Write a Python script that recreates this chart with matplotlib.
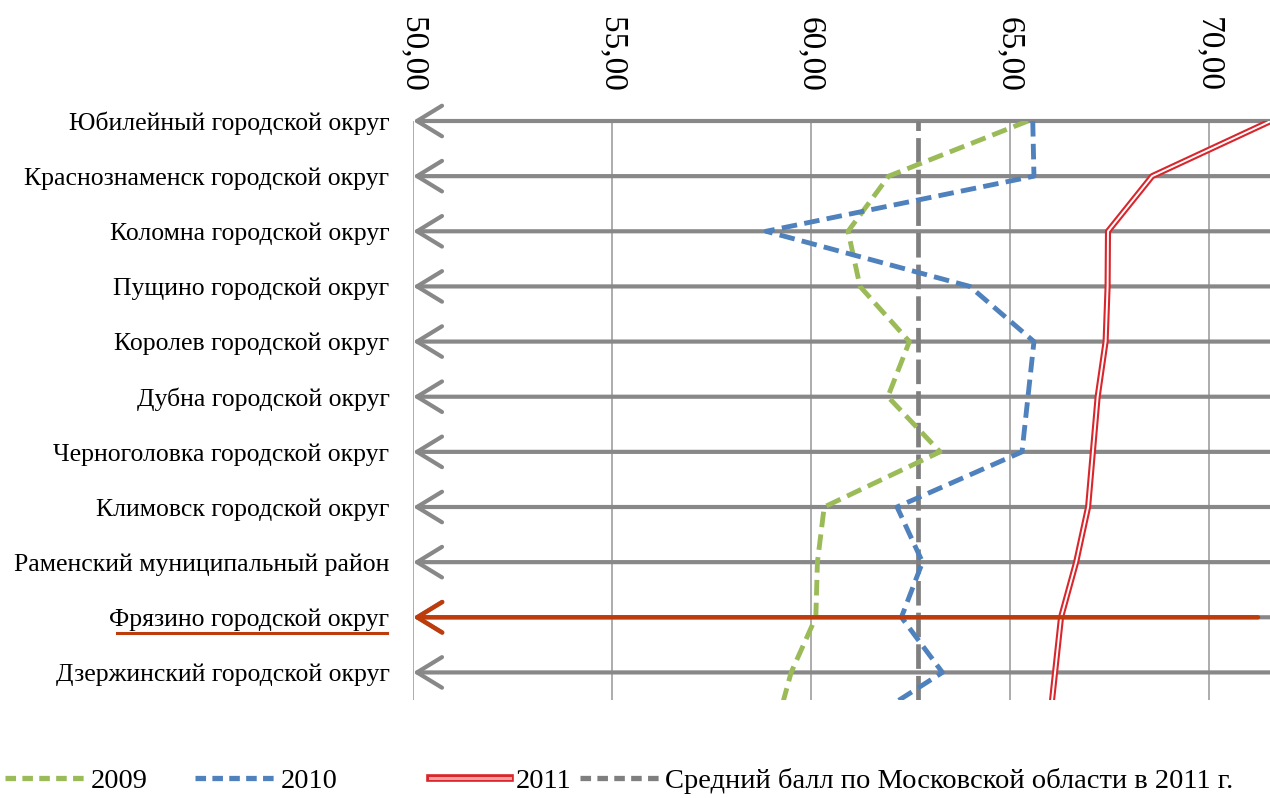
import matplotlib
matplotlib.use('Agg')
import numpy as np
import matplotlib.pyplot as plt
import matplotlib.patheffects as pe
from matplotlib.lines import Line2D

# ---------------- data ----------------
categories = [
    'Юбилейный городской округ',
    'Краснознаменск городской округ',
    'Коломна городской округ',
    'Пущино городской округ',
    'Королев городской округ',
    'Дубна городской округ',
    'Черноголовка городской округ',
    'Климовск городской округ',
    'Раменский муниципальный район',
    'Фрязино городской округ',
    'Дзержинский городской округ',
]
# the 12th value of each series belongs to a row cut off below the chart edge
scores_2009 = [65.45, 61.95, 60.93, 61.23, 62.47, 61.93, 63.24, 60.33, 60.16, 60.12, 59.50, 59.12]
scores_2010 = [65.57, 65.60, 58.87, 63.99, 65.60, 65.45, 65.30, 62.16, 62.80, 62.27, 63.30, 61.13]
scores_2011 = [71.55, 68.57, 67.46, 67.45, 67.40, 67.20, 67.08, 66.96, 66.66, 66.28, 66.13, 65.98]
region_avg_2011 = 62.69
x_ticks = [50, 55, 60, 65, 70]
x_tick_labels = ['50,00', '55,00', '60,00', '65,00', '70,00']
highlight = 'Фрязино городской округ'
series_names = ['2009', '2010', '2011', 'Средний балл по Московской области в 2011 г.']

# ---------------- style ----------------
plt.rcParams['font.family'] = ['Liberation Serif', 'DejaVu Serif']
W, H = 1270, 798
fig = plt.figure(figsize=(W / 100, H / 100), dpi=100)
ax = fig.add_axes([413 / W, 1 - 700 / H, 857 / W, 579 / H])

XMIN, XMAX = 50, 71.53
ax.set_xlim(XMIN, XMAX)
ax.set_ylim(10.5, 0)

c_green = '#9BBB59'
c_blue = '#4F81BD'
c_red = '#D9262C'
c_gray = '#7F7F7F'
c_hl = '#BE3C0C'

pos = np.arange(len(scores_2009))

for s in ax.spines.values():
    s.set_visible(False)

ax.set_xticks(x_ticks)
ax.set_xticklabels(x_tick_labels, rotation=-90, fontsize=24)
ax.xaxis.tick_top()
ax.tick_params(axis='x', length=0, pad=21)
ax.grid(axis='x', color='#A6A6A6', lw=1.3, zorder=0)
ax.set_axisbelow(True)

ax.set_yticks(np.arange(len(categories)))
ax.set_yticklabels(categories, fontsize=18.5)
ax.tick_params(axis='y', length=0, pad=17)

# horizontal category arrows
arrow_style = '->,head_length=0.9,head_width=0.55'
for i, name in enumerate(categories):
    ax.annotate('', xy=(XMIN, i), xytext=(XMAX, i),
                arrowprops=dict(arrowstyle=arrow_style, color='#888888', lw=3.0,
                                shrinkA=0, shrinkB=0, mutation_scale=20),
                annotation_clip=False, zorder=1.5)

# series
l09, = ax.plot(scores_2009, pos, color=c_green, lw=3.5, dashes=(3.2, 1.5), zorder=3)
l10, = ax.plot(scores_2010, pos, color=c_blue, lw=3.5, dashes=(3.2, 1.5), zorder=3)
l11, = ax.plot(scores_2011, pos, color='white', lw=1.4, zorder=3.2,
               path_effects=[pe.Stroke(linewidth=4.4, foreground=c_red), pe.Normal()])
lav = ax.axvline(region_avg_2011, color=c_gray, lw=3.4, dashes=(5.2, 1.5), zorder=2.8)

# highlighted row arrow
hi = categories.index(highlight)
ax.annotate('', xy=(XMIN, hi), xytext=(71.23, hi),
            arrowprops=dict(arrowstyle=arrow_style, color=c_hl, lw=3.2,
                            shrinkA=0, shrinkB=0, mutation_scale=20),
            annotation_clip=False, zorder=5)

# underline highlighted label
fig.canvas.draw()
lab = ax.get_yticklabels()[hi]
bb = lab.get_window_extent(fig.canvas.get_renderer())
uy = 1 - 633 / H
fig.add_artist(Line2D([(bb.x0 + 8) / W, (bb.x1 - 2) / W], [uy, uy],
                      transform=fig.transFigure, color=c_hl, lw=2.2))

# legend (one entry per legend, placed along the bottom)
handles = [
    Line2D([], [], color=c_green, lw=3.8, dashes=(2.0, 1.2)),
    Line2D([], [], color=c_blue, lw=3.8, dashes=(2.0, 1.2)),
    Line2D([], [], color='#F4A0A0', lw=2.2,
           path_effects=[pe.Stroke(linewidth=5.5, foreground=c_red), pe.Normal()]),
    Line2D([], [], color=c_gray, lw=3.8, dashes=(2.0, 1.2)),
]
starts = [5, 195, 430, 580]
for h, name, x0 in zip(handles, series_names, starts):
    fig.legend(handles=[h], labels=[name], loc='center left',
               bbox_to_anchor=(x0 / W, 1 - 781 / H), frameon=False,
               fontsize=20.5, handlelength=2.8, handletextpad=0.2,
               borderpad=0, borderaxespad=0)

fig.savefig('out.png', dpi=100)
